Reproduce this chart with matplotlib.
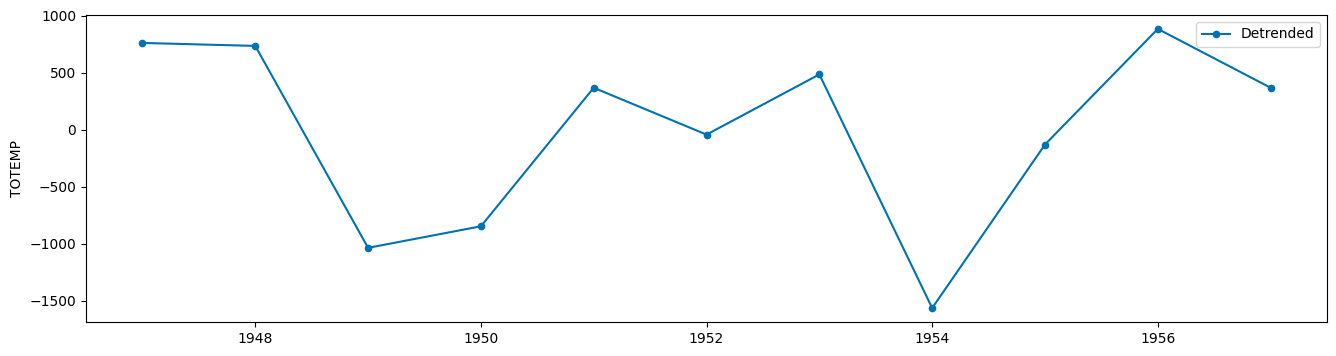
import matplotlib
matplotlib.use('Agg')
import matplotlib.pyplot as plt

# años y valores sin tendencia
years = [1947, 1948, 1949, 1950, 1951, 1952, 1953, 1954, 1955, 1956, 1957]
detrended = [760, 734, -1037, -848, 367, -44, 484, -1565, -131, 883, 367]

fig, ax = plt.subplots(figsize=(13.36, 3.56), dpi=100)
ax.plot(years, detrended, marker='o', markersize=4.5, color='#0072B2',
        linewidth=1.5, label='Detrended')
ax.set_ylabel('TOTEMP')
ax.set_yticks([1000, 500, 0, -500, -1000, -1500])
ax.set_xticks([1948, 1950, 1952, 1954, 1956])
ax.legend(loc='upper right')

plt.subplots_adjust(left=0.0644, right=0.9933, top=0.958, bottom=0.0955)
plt.savefig('out.png', dpi=100)
